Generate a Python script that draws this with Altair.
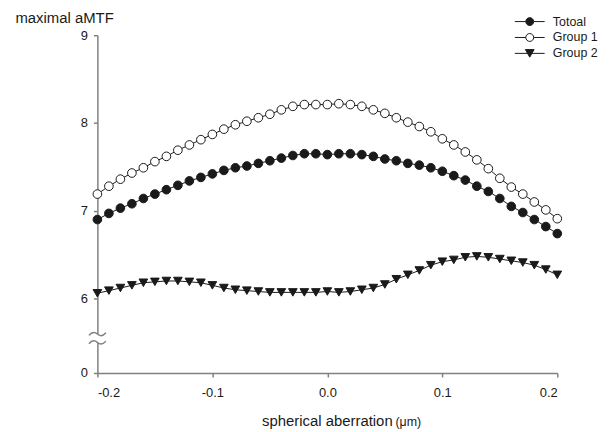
import altair as alt
import pandas as pd

# ---------------- data ----------------
x_um = [-0.20, -0.19, -0.18, -0.17, -0.16, -0.15, -0.14, -0.13, -0.12, -0.11,
        -0.10, -0.09, -0.08, -0.07, -0.06, -0.05, -0.04, -0.03, -0.02, -0.01,
        0.00, 0.01, 0.02, 0.03, 0.04, 0.05, 0.06, 0.07, 0.08, 0.09,
        0.10, 0.11, 0.12, 0.13, 0.14, 0.15, 0.16, 0.17, 0.18, 0.19, 0.20]

total = [6.90, 6.97, 7.03, 7.08, 7.14, 7.19, 7.24, 7.29, 7.34, 7.38,
         7.42, 7.46, 7.49, 7.51, 7.54, 7.57, 7.60, 7.63, 7.65, 7.65,
         7.64, 7.65, 7.65, 7.64, 7.62, 7.59, 7.57, 7.54, 7.52, 7.49,
         7.45, 7.40, 7.35, 7.28, 7.22, 7.14, 7.05, 6.98, 6.90, 6.82, 6.74]

group1 = [7.19, 7.28, 7.36, 7.43, 7.49, 7.56, 7.62, 7.69, 7.75, 7.81,
          7.87, 7.93, 7.98, 8.02, 8.06, 8.10, 8.15, 8.19, 8.21, 8.21,
          8.21, 8.22, 8.21, 8.19, 8.15, 8.11, 8.06, 8.01, 7.96, 7.90,
          7.82, 7.75, 7.67, 7.58, 7.48, 7.37, 7.27, 7.19, 7.10, 7.01, 6.91]

group2 = [6.06, 6.09, 6.12, 6.15, 6.18, 6.19, 6.20, 6.20, 6.19, 6.18,
          6.15, 6.12, 6.10, 6.09, 6.08, 6.07, 6.07, 6.07, 6.07, 6.07,
          6.08, 6.07, 6.08, 6.10, 6.12, 6.16, 6.22, 6.27, 6.32, 6.38,
          6.42, 6.44, 6.47, 6.48, 6.47, 6.45, 6.43, 6.41, 6.38, 6.33, 6.27]

groups = ["Totoal", "Group 1", "Group 2"]
x_ticks = [-0.2, -0.1, 0.0, 0.1, 0.2]
y_ticks = [5.152, 6, 7, 8, 9]          # 5.152 is where the broken axis shows "0"
break_marks = [5.595, 5.50]
unit_label = ["(μm)"]

df = pd.concat([
    pd.DataFrame({"x": x_um, "y": total, "group": groups[0]}),
    pd.DataFrame({"x": x_um, "y": group1, "group": groups[1]}),
    pd.DataFrame({"x": x_um, "y": group2, "group": groups[2]}),
], ignore_index=True)

# ---------------- styling ----------------
FONT = "Liberation Sans"
INK = "#1a1a1a"
AXIS = "#808080"

x_enc = alt.X(
    "x:Q",
    scale=alt.Scale(domain=[-0.2, 0.2], nice=False, zero=False),
    axis=alt.Axis(
        values=x_ticks,
        labelExpr="datum.value < -0.001 ? '-' + format(-datum.value, '.1f') : format(abs(datum.value), '.1f')",
        grid=False, domainColor=AXIS, domainWidth=1.5, tickColor=AXIS, tickWidth=1.5,
        tickSize=4, labelFont=FONT, labelFontSize=13, labelColor=INK, labelPadding=10,
        title="spherical aberration", titleFont=FONT, titleFontSize=15,
        titleFontWeight="normal", titleColor=INK, titleX=231, titleY=53,
        titleAlign="center", titleBaseline="alphabetic",
    ),
)
y_enc = alt.Y(
    "y:Q",
    scale=alt.Scale(domain=[5.152, 9], nice=False, zero=False),
    axis=alt.Axis(
        values=y_ticks,
        labelExpr="datum.value < 5.5 ? '0' : format(datum.value, 'd')",
        grid=False, domainColor=AXIS, domainWidth=1.5, tickColor=AXIS, tickWidth=1.5,
        tickSize=4, labelFont=FONT, labelFontSize=13, labelColor=INK, labelPadding=6,
        title="maximal aMTF", titleFont=FONT, titleFontSize=15,
        titleFontWeight="normal", titleColor=INK, titleAngle=0,
        titleAlign="left", titleBaseline="alphabetic", titleX=-83, titleY=-13,
    ),
)

base = alt.Chart(df)

lines = base.mark_line(color=INK, strokeWidth=1).encode(
    x=x_enc, y=y_enc, detail="group:N"
)

points = base.mark_point(filled=True, size=76, stroke=INK, strokeWidth=1, opacity=1).encode(
    x=x_enc, y=y_enc,
    shape=alt.Shape("group:N", scale=alt.Scale(domain=groups,
                    range=["circle", "circle", "triangle-down"]), legend=None),
    fill=alt.Fill("group:N", scale=alt.Scale(domain=groups,
                  range=[INK, "white", INK]), legend=None),
)

# legend symbols: marker with a short line through it (unit coordinates)
p_filled = "M-3.4,0H-0.9M0.9,0H3.4M0.9,0A0.9,0.9,0,1,1,-0.9,0A0.9,0.9,0,1,1,0.9,0Z"
p_open = p_filled
p_tri = "M-3.4,0H3.4M0,0.866L1,-0.866L-1,-0.866Z"

leg = alt.Legend(
    title=None, orient="none", legendX=429, legendY=-20, padding=0,
    labelFont=FONT, labelFontSize=12.5, labelColor=INK, labelOffset=17,
    rowPadding=3, symbolSize=78, symbolStrokeWidth=1, symbolStrokeColor=INK,
)
legend_layer = base.transform_filter("false").mark_point(
    filled=True, size=78, strokeWidth=1, opacity=1
).encode(
    x=x_enc, y=y_enc,
    shape=alt.Shape("group:N", scale=alt.Scale(domain=groups,
                    range=[p_filled, p_open, p_tri]), legend=leg),
    fill=alt.Fill("group:N", scale=alt.Scale(domain=groups,
                  range=[INK, "white", INK]), legend=leg),
    stroke=alt.Stroke("group:N", scale=alt.Scale(domain=groups,
                      range=[INK, INK, INK]), legend=leg),
)

# axis break
gap = alt.Chart(pd.DataFrame({"y": [break_marks[1]], "y2": [break_marks[0]]})).mark_rect(
    color="white"
).encode(x=alt.value(-3), x2=alt.value(3), y=alt.Y("y:Q"), y2="y2:Q")

tilde = "M-1,0.15C-0.6,-0.35,-0.2,-0.2,0,0S0.6,0.35,1,-0.15"
squiggles = alt.Chart(pd.DataFrame({"y": break_marks})).mark_point(
    shape=tilde, size=289, filled=False, stroke=AXIS, strokeWidth=1.5, opacity=1
).encode(x=alt.value(0), y=alt.Y("y:Q"))

unit = alt.Chart(pd.DataFrame({"t": unit_label})).mark_text(
    font=FONT, fontSize=12.5, color=INK, align="left", baseline="alphabetic"
).encode(text="t:N", x=alt.value(300), y=alt.value(393))

chart = alt.layer(lines, points, legend_layer, gap, squiggles, unit).resolve_scale(
    shape="independent", fill="independent", stroke="independent"
).properties(
    width=463, height=340,
    padding={"left": 90, "top": 26, "right": 45, "bottom": 55},
    autosize=alt.AutoSizeParams(type="none"),
).configure_view(stroke=None)

chart.save("out.html", embed_options={"renderer": "svg", "actions": False})
